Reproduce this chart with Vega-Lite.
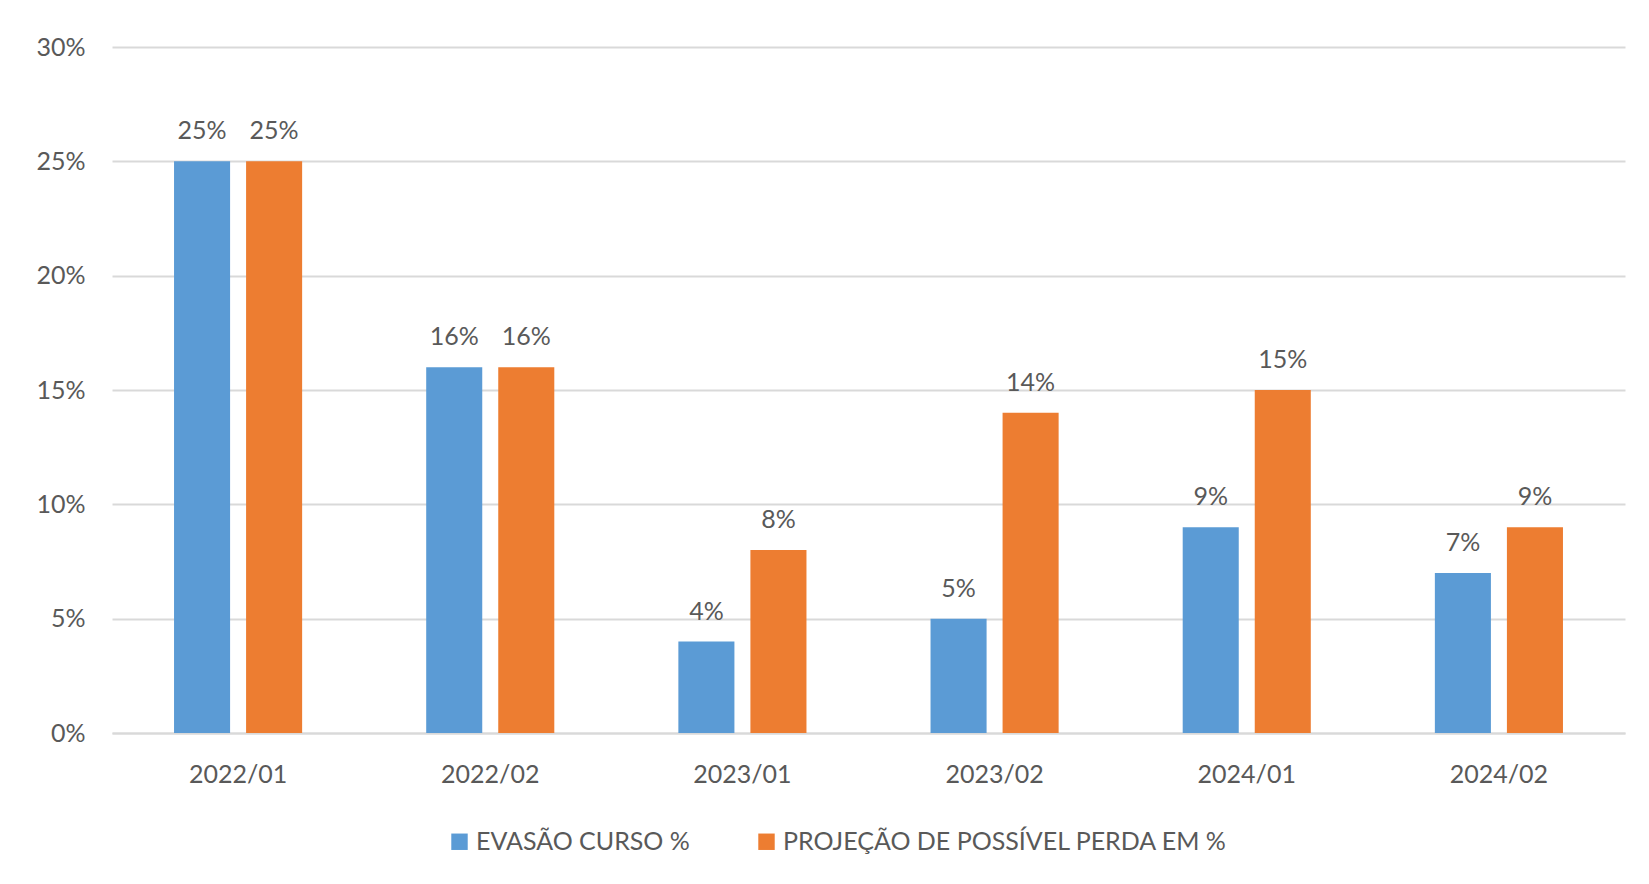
{
  "$schema": "https://vega.github.io/schema/vega-lite/v6.json",
  "width": 1513,
  "height": 686,
  "autosize": {"type": "none"},
  "padding": {"left": 112, "top": 47, "right": 24, "bottom": 151},
  "background": "white",
  "data": {
    "values": [
      {"periodo": "2022/01", "serie": "EVASÃO CURSO %", "valor": 0.25},
      {"periodo": "2022/01", "serie": "PROJEÇÃO DE POSSÍVEL PERDA EM %", "valor": 0.25},
      {"periodo": "2022/02", "serie": "EVASÃO CURSO %", "valor": 0.16},
      {"periodo": "2022/02", "serie": "PROJEÇÃO DE POSSÍVEL PERDA EM %", "valor": 0.16},
      {"periodo": "2023/01", "serie": "EVASÃO CURSO %", "valor": 0.04},
      {"periodo": "2023/01", "serie": "PROJEÇÃO DE POSSÍVEL PERDA EM %", "valor": 0.08},
      {"periodo": "2023/02", "serie": "EVASÃO CURSO %", "valor": 0.05},
      {"periodo": "2023/02", "serie": "PROJEÇÃO DE POSSÍVEL PERDA EM %", "valor": 0.14},
      {"periodo": "2024/01", "serie": "EVASÃO CURSO %", "valor": 0.09},
      {"periodo": "2024/01", "serie": "PROJEÇÃO DE POSSÍVEL PERDA EM %", "valor": 0.15},
      {"periodo": "2024/02", "serie": "EVASÃO CURSO %", "valor": 0.07},
      {"periodo": "2024/02", "serie": "PROJEÇÃO DE POSSÍVEL PERDA EM %", "valor": 0.09}
    ]
  },
  "encoding": {
    "x": {
      "field": "periodo",
      "type": "nominal",
      "sort": null,
      "title": null,
      "scale": {"paddingInner": 0.492, "paddingOuter": 0.246},
      "axis": {
        "labelAngle": 0,
        "labelPadding": 29,
        "ticks": false,
        "domainColor": "#d9d9d9",
        "domainWidth": 2,
        "grid": false
      }
    },
    "xOffset": {
      "field": "serie",
      "type": "nominal",
      "scale": {"paddingInner": 0.222, "paddingOuter": 0}
    },
    "y": {
      "field": "valor",
      "type": "quantitative",
      "title": null,
      "scale": {"domain": [0, 0.3], "nice": false},
      "axis": {
        "values": [0, 0.05, 0.1, 0.15, 0.2, 0.25, 0.3],
        "format": ".0%",
        "domain": false,
        "ticks": false,
        "labelPadding": 27,
        "gridColor": "#d9d9d9",
        "gridWidth": 2
      }
    },
    "color": {
      "field": "serie",
      "type": "nominal",
      "title": null,
      "scale": {
        "domain": ["EVASÃO CURSO %", "PROJEÇÃO DE POSSÍVEL PERDA EM %"],
        "range": ["#5B9BD5", "#ED7D31"]
      },
      "legend": {
        "orient": "none",
        "direction": "horizontal",
        "legendX": 335,
        "legendY": 782,
        "symbolType": "square",
        "symbolSize": 270,
        "symbolStrokeWidth": 0,
        "labelOffset": 4,
        "columnPadding": 64,
        "labelFontSize": 25,
        "labelColor": "#595959",
        "labelFont": "Lato",
        "labelLimit": 600
      }
    }
  },
  "layer": [
    {"mark": {"type": "bar"}},
    {
      "mark": {
        "type": "text",
        "baseline": "bottom",
        "dy": -17,
        "fontSize": 25,
        "font": "Lato",
        "color": "#595959"
      },
      "encoding": {
        "text": {"field": "valor", "type": "quantitative", "format": ".0%"},
        "color": {"value": "#595959"}
      }
    }
  ],
  "config": {
    "view": {"stroke": null},
    "axis": {
      "labelFont": "Lato",
      "labelFontSize": 25,
      "labelColor": "#595959"
    }
  }
}
